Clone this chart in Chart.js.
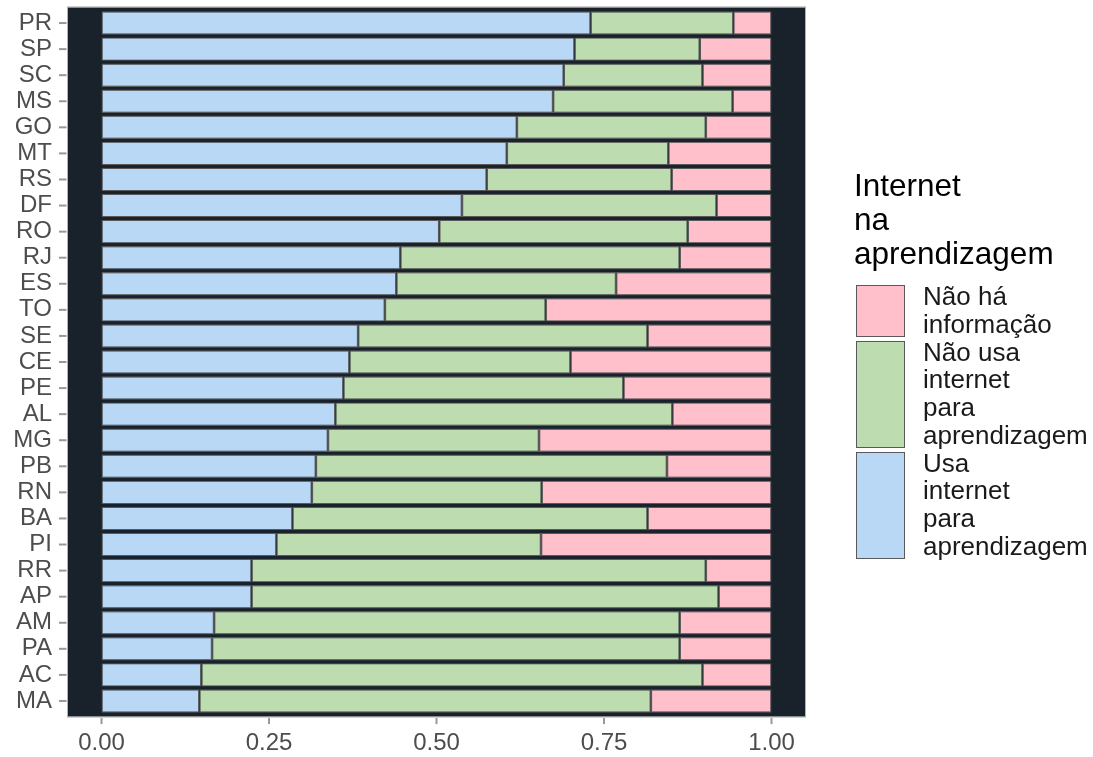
<!DOCTYPE html>
<html>
<head>
<meta charset="utf-8">
<script src="https://cdn.jsdelivr.net/npm/chart.js@4.4.1/dist/chart.umd.min.js"></script>
<style>
    body { margin: 0; background: #ffffff; font-family: "Liberation Sans", Arial, sans-serif; }
    #wrap { position: relative; width: 1093px; height: 757px; }
    #legend { position: absolute; left: 854px; top: 168px; color: #000000; }
    #legend .title { font-size: 31.5px; line-height: 34px; margin-bottom: 13px; }
    #legend .item { display: flex; align-items: stretch; }
    #legend .box { width: 47px; margin: 2px 18px 2px 2px; border: 1.5px solid #595959; }
    #legend .txt { font-size: 26px; line-height: 27.75px; color: #1a1a1a; }
</style>
</head>
<body>
<div id="wrap">
    <canvas id="chart" width="1093" height="757"></canvas>
    <div id="legend"></div>
</div>
<script>
// States, top to bottom
const states = ['PR', 'SP', 'SC', 'MS', 'GO', 'MT', 'RS', 'DF', 'RO', 'RJ', 'ES', 'TO', 'SE', 'CE',
    'PE', 'AL', 'MG', 'PB', 'RN', 'BA', 'PI', 'RR', 'AP', 'AM', 'PA', 'AC', 'MA'];

// Shares
const usaInternet = [0.730, 0.706, 0.690, 0.674, 0.620, 0.605, 0.575, 0.538, 0.504, 0.446, 0.440, 0.423, 0.383, 0.370,
    0.361, 0.349, 0.338, 0.320, 0.314, 0.285, 0.261, 0.224, 0.224, 0.168, 0.165, 0.149, 0.146];
const naoUsaInternet = [0.213, 0.187, 0.207, 0.268, 0.282, 0.241, 0.276, 0.380, 0.371, 0.417, 0.328, 0.240, 0.432, 0.330,
    0.418, 0.503, 0.315, 0.524, 0.343, 0.530, 0.395, 0.678, 0.697, 0.695, 0.698, 0.748, 0.674];
const semInformacao = [0.057, 0.107, 0.103, 0.058, 0.098, 0.154, 0.149, 0.082, 0.125, 0.137, 0.232, 0.337, 0.185, 0.300,
    0.221, 0.148, 0.347, 0.156, 0.343, 0.185, 0.344, 0.098, 0.079, 0.137, 0.137, 0.103, 0.180];

const seriesNames = ['Usa internet para aprendizagem', 'Não usa internet para aprendizagem', 'Não há informação'];
const seriesColors = ['#B9D8F5', '#BDDDB0', '#FFC0CB'];
const legendTitle = 'Internet na aprendizagem';
const xTicks = [0, 0.25, 0.5, 0.75, 1];

const PANEL = '#19212A';
const AXIS_GREY = '#4D4D4D';
const TICK_GREY = '#999999';

// greedy wrap like str_wrap(width = 10)
function wrap(text, width) {
    const lines = [];
    let cur = '';
    text.split(' ').forEach(w => {
        if (cur && (cur + ' ' + w).length > width) { lines.push(cur); cur = w; }
        else cur = cur ? cur + ' ' + w : w;
    });
    if (cur) lines.push(cur);
    return lines;
}

function panelRect(chart) {
    const a = chart.chartArea;
    const ext = (a.bottom - a.top) / states.length * 0.1;
    return { left: a.left, right: a.right, top: a.top - ext, bottom: a.bottom + ext };
}

// dark panel (ggplot expansion 0.6), light border and axis tick marks
const panelPlugin = {
    id: 'panel',
    beforeDatasetsDraw(chart) {
        const { ctx } = chart;
        const p = panelRect(chart);
        ctx.save();
        ctx.fillStyle = PANEL;
        ctx.fillRect(p.left, p.top, p.right - p.left, p.bottom - p.top);
        ctx.restore();
    },
    afterDatasetsDraw(chart) {
        const { ctx } = chart;
        const p = panelRect(chart);
        const xs = chart.scales.x, ys = chart.scales.y;
        ctx.save();
        ctx.strokeStyle = '#B3B3B3';
        ctx.lineWidth = 1;
        ctx.strokeRect(p.left - 0.5, p.top - 0.5, p.right - p.left + 1, p.bottom - p.top + 1);
        ctx.fillStyle = TICK_GREY;
        states.forEach((s, i) => {
            const py = ys.getPixelForTick(i);
            ctx.fillRect(p.left - 9, py - 1, 7.5, 2);
        });
        xTicks.forEach(v => {
            const px = xs.getPixelForValue(v);
            ctx.fillRect(px - 1, p.bottom + 1.5, 2, 6);
        });
        ctx.restore();
    }
};

const seriesData = [usaInternet, naoUsaInternet, semInformacao];

new Chart(document.getElementById('chart'), {
    type: 'bar',
    data: {
        labels: states,
        datasets: seriesNames.map((name, i) => ({
            label: name,
            data: seriesData[i],
            backgroundColor: seriesColors[i],
            borderColor: '#595959',
            borderWidth: 1.2,
            borderSkipped: false,
            categoryPercentage: 0.9,
            barPercentage: 1
        }))
    },
    options: {
        indexAxis: 'y',
        responsive: false,
        animation: false,
        layout: { padding: { top: 10, right: 288, left: 0, bottom: 0 } },
        plugins: { legend: { display: false }, tooltip: { enabled: false } },
        scales: {
            x: {
                stacked: true,
                min: -0.05,
                max: 1.05,
                afterBuildTicks: scale => { scale.ticks = xTicks.map(v => ({ value: v })); },
                afterFit: scale => { scale.height = 43; scale.paddingLeft = 0; scale.paddingRight = 0; },
                grid: { display: false, tickLength: 9 },
                border: { display: false },
                ticks: {
                    color: AXIS_GREY,
                    padding: 6,
                    font: { family: '"Liberation Sans", Arial, sans-serif', size: 24 },
                    callback: v => Number(v).toFixed(2)
                }
            },
            y: {
                stacked: true,
                afterFit: scale => { scale.width = 68; scale.paddingTop = 0; scale.paddingBottom = 0; },
                grid: { display: false, tickLength: 8 },
                border: { display: false },
                ticks: {
                    color: AXIS_GREY,
                    padding: 8,
                    autoSkip: false,
                    font: { family: '"Liberation Sans", Arial, sans-serif', size: 24 }
                }
            }
        }
    },
    plugins: [panelPlugin]
});

// legend (ggplot order: last stack layer first)
const legend = document.getElementById('legend');
const title = document.createElement('div');
title.className = 'title';
title.innerHTML = wrap(legendTitle, 10).join('<br>');
legend.appendChild(title);
for (let i = seriesNames.length - 1; i >= 0; i--) {
    const item = document.createElement('div');
    item.className = 'item';
    const box = document.createElement('div');
    box.className = 'box';
    box.style.background = seriesColors[i];
    const txt = document.createElement('div');
    txt.className = 'txt';
    txt.innerHTML = wrap(seriesNames[i], 10).join('<br>');
    item.appendChild(box);
    item.appendChild(txt);
    legend.appendChild(item);
}
</script>
</body>
</html>
